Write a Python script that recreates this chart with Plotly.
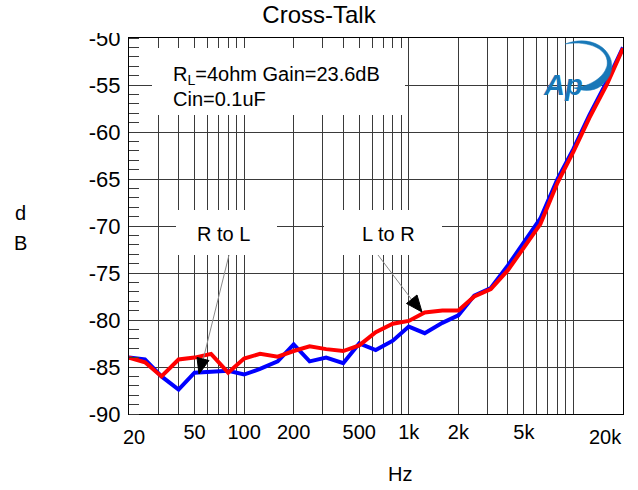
import plotly.graph_objects as go
import math

# ---------------- data ----------------
freqs = [20, 25, 31.5, 40, 50, 63, 80, 100, 125, 160, 200, 250, 315, 400, 500,
         630, 800, 1000, 1250, 1600, 2000, 2500, 3150, 4000, 5000, 6300, 8000,
         10000, 12500, 16000, 20000]
r_to_l = [-84.0, -84.2, -86.0, -87.4, -85.6, -85.5, -85.4, -85.8, -85.2, -84.4,
          -82.6, -84.4, -84.0, -84.6, -82.5, -83.2, -82.2, -80.7, -81.4, -80.3,
          -79.5, -77.4, -76.6, -74.2, -71.7, -69.2, -65.0, -61.8, -58.2, -54.6, -51.0]
l_to_r = [-84.0, -84.5, -86.0, -84.2, -84.0, -83.6, -85.6, -84.1, -83.6, -83.9,
          -83.3, -82.8, -83.1, -83.3, -82.7, -81.3, -80.4, -80.1, -79.2, -79.0,
          -79.0, -77.5, -76.7, -74.7, -72.3, -69.8, -65.4, -62.1, -58.5, -54.9, -51.1]

x_tick_vals = [50, 100, 200, 500, 1000, 2000, 5000]
x_tick_text = ["50", "100", "200", "500", "1k", "2k", "5k"]
x_grid_minor = [30, 40, 60, 70, 80, 90, 300, 400, 600, 700, 800, 900,
                3000, 4000, 6000, 7000, 8000, 9000, 10000]
x_edge_labels = ["20", "20k"]
y_ticks = [-90, -85, -80, -75, -70, -65, -60, -55, -50]

# ---------------- layout helpers ----------------
W, H = 638, 490
ML, MR, MT, MB = 129, 15, 38, 76
PW, PH = W - ML - MR, H - MT - MB


def px(x):
    return (x - ML) / PW


def py(y):
    return (H - MB - y) / PH


def P(x, y):
    return f"{px(x):.5f},{py(y):.5f}"


FONT = "Liberation Sans, Arial, sans-serif"
GRID = "#3a3a3a"

fig = go.Figure()
fig.add_trace(go.Scatter(x=freqs, y=r_to_l, mode="lines", name="R to L",
                         line=dict(color="#0000ff", width=4)))
fig.add_trace(go.Scatter(x=freqs, y=l_to_r, mode="lines", name="L to R",
                         line=dict(color="#ff0000", width=4)))

fig.update_xaxes(type="log", range=[math.log10(20), math.log10(20000)],
                 tickvals=x_tick_vals, ticktext=x_tick_text,
                 showgrid=True, gridcolor=GRID, gridwidth=1,
                 minor=dict(tickvals=x_grid_minor, showgrid=True,
                            gridcolor=GRID, gridwidth=1, ticks=""),
                 showline=True, mirror=True, linecolor="black", linewidth=1,
                 ticks="", tickfont=dict(family=FONT, size=20, color="black"),
                 zeroline=False)
fig.update_yaxes(range=[-90, -50], tickvals=y_ticks,
                 ticktext=[str(v) for v in y_ticks],
                 showgrid=True, gridcolor=GRID, gridwidth=1,
                 showline=True, mirror=True, linecolor="black", linewidth=1,
                 ticks="", ticklabelstandoff=3,
                 tickfont=dict(family=FONT, size=22, color="black"),
                 minor=dict(dtick=1, ticks="inside", ticklen=10,
                            tickcolor=GRID, showgrid=False),
                 zeroline=False)

shapes = []
# white boxes behind the text labels
for (x0, y0, x1, y1) in [(152, 48, 405, 115), (176, 210, 277, 255), (324, 210, 442, 255)]:
    shapes.append(dict(type="rect", xref="paper", yref="paper",
                       x0=px(x0), x1=px(x1), y0=py(y1), y1=py(y0),
                       fillcolor="white", line=dict(width=0), layer="above"))
# the top tick label is partly hidden in the original
shapes.append(dict(type="rect", xref="paper", yref="paper",
                   x0=px(85), x1=px(127), y0=py(33), y1=py(0),
                   fillcolor="white", line=dict(width=0), layer="above"))
# arrow shafts (thin gray)
for (x0, y0, x1, y1) in [(229, 255, 203, 360), (378, 255, 412, 300)]:
    shapes.append(dict(type="line", xref="paper", yref="paper",
                       x0=px(x0), y0=py(y0), x1=px(x1), y1=py(y1),
                       line=dict(color="#8a8a8a", width=1), layer="above"))
# arrow heads (black triangles)
shapes.append(dict(type="path", xref="paper", yref="paper",
                   path=f"M {P(199, 374)} L {P(197, 357.5)} L {P(209, 360.5)} Z",
                   fillcolor="black", line=dict(color="black", width=1), layer="above"))
shapes.append(dict(type="path", xref="paper", yref="paper",
                   path=f"M {P(422, 312)} L {P(406.5, 303.5)} L {P(417, 295)} Z",
                   fillcolor="black", line=dict(color="black", width=1), layer="above"))
# logo swoosh (crescent)
shapes.append(dict(type="path", xref="paper", yref="paper",
                   path=(f"M {P(565, 44)} C {P(603, 30)} {P(627, 66)} {P(601, 86)} "
                         f"C {P(593, 92)} {P(582, 91)} {P(574, 88)} "
                         f"C {P(586, 87)} {P(603, 80)} {P(607, 66)} "
                         f"C {P(610, 50)} {P(590, 40)} {P(565, 44)} Z"),
                   fillcolor="#1878b8", line=dict(color="#1878b8", width=0.5),
                   layer="above"))

txt = dict(family=FONT, size=20, color="black")
ann = []
ann.append(dict(text="R<sub>L</sub>=4ohm Gain=23.6dB", x=px(171), y=py(75),
                xref="paper", yref="paper", xanchor="left", yanchor="middle",
                showarrow=False, font=txt))
ann.append(dict(text="Cin=0.1uF", x=px(171), y=py(99),
                xref="paper", yref="paper", xanchor="left", yanchor="middle",
                showarrow=False, font=txt))
ann.append(dict(text="R to L", x=px(223), y=py(234), xref="paper", yref="paper",
                xanchor="center", yanchor="middle", showarrow=False, font=txt))
ann.append(dict(text="L to R", x=px(388), y=py(234), xref="paper", yref="paper",
                xanchor="center", yanchor="middle", showarrow=False, font=txt))
# edge tick labels
ann.append(dict(text=x_edge_labels[0], x=px(121), y=py(437), xref="paper", yref="paper",
                xanchor="left", yanchor="middle", showarrow=False, font=txt))
ann.append(dict(text=x_edge_labels[1], x=px(624), y=py(437), xref="paper", yref="paper",
                xanchor="right", yanchor="middle", showarrow=False, font=txt))
# axis titles
ann.append(dict(text="d", x=px(20), y=py(213), xref="paper", yref="paper",
                xanchor="center", yanchor="middle", showarrow=False, font=txt))
ann.append(dict(text="B", x=px(20), y=py(243), xref="paper", yref="paper",
                xanchor="center", yanchor="middle", showarrow=False, font=txt))
ann.append(dict(text="Hz", x=px(400), y=py(474), xref="paper", yref="paper",
                xanchor="center", yanchor="middle", showarrow=False, font=txt))
# logo text
ann.append(dict(text="<b><i>Ap</i></b>", x=px(585), y=py(67), xref="paper", yref="paper",
                showarrow=False, font=dict(family=FONT, size=29, color="#1878b8")))

fig.update_layout(
    width=W, height=H,
    margin=dict(l=ML, r=MR, t=MT, b=MB),
    paper_bgcolor="white", plot_bgcolor="white",
    showlegend=False,
    title=dict(text="Cross-Talk", x=0.5, xref="container", xanchor="center",
               y=1 - 15 / H, yref="container", yanchor="middle",
               font=dict(family=FONT, size=24, color="black")),
    shapes=shapes, annotations=ann,
)

fig.write_html("out.html", config={"displayModeBar": False},
               post_script="document.body.style.margin='0px';")
